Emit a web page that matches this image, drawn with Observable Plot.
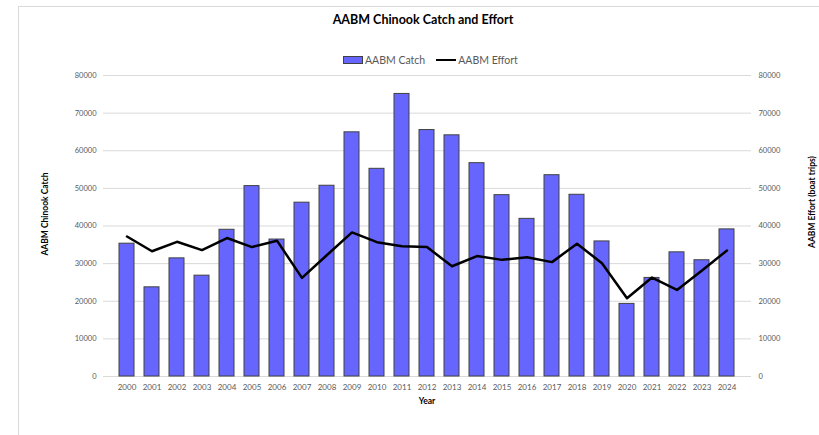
<!DOCTYPE html>
<html>
<head>
<meta charset="utf-8">
<script src="https://cdn.jsdelivr.net/npm/d3@7"></script>
<script src="https://cdn.jsdelivr.net/npm/@observablehq/plot@0.6"></script>
<style>
  html, body { margin: 0; padding: 0; background: #fff; }
  #wrap { position: relative; width: 819px; height: 435px; overflow: hidden; font-family: Lato, "Open Sans", sans-serif; }
  #frame { position: absolute; left: 18px; top: 6px; width: 820px; height: 440px; border-left: 1px solid #d9d9d9; border-top: 1px solid #d9d9d9; }
  #chart { position: absolute; left: 0; top: 0; }
  .title { position: absolute; left: 0; width: 846px; top: 12px; text-align: center; font-weight: bold; font-size: 12.5px; color: #000; }
  .legend { position: absolute; top: 54px; left: 343px; font-size: 10.5px; color: #595959; display: flex; align-items: center; white-space: nowrap; }
  .sw { display: inline-block; width: 18px; height: 6px; background: #6666ff; border: 1px solid #404040; margin-right: 2px; }
  .ln { display: inline-block; width: 20px; height: 2.5px; background: #000; margin-left: 11px; margin-right: 2px; }
  .ytitle { position: absolute; font-weight: bold; font-size: 8.5px; color: #000; white-space: nowrap; transform: translate(-50%, -50%) rotate(-90deg); }
  .xtitle { position: absolute; top: 396px; left: 427px; transform: translateX(-50%); font-weight: bold; font-size: 8.5px; color: #000; }
</style>
</head>
<body>
<div id="wrap">
  <div id="frame"></div>
  <div id="chart"></div>
  <div class="title">AABM Chinook Catch and Effort</div>
  <div class="legend"><span class="sw"></span><span>AABM Catch</span><span class="ln"></span><span>AABM Effort</span></div>
  <div class="ytitle" style="left:45px; top:214px;">AABM Chinook Catch</div>
  <div class="ytitle" style="left:812px; top:202px;">AABM Effort (boat trips)</div>
  <div class="xtitle">Year</div>
</div>
<script>
const years = ["2000","2001","2002","2003","2004","2005","2006","2007","2008","2009","2010","2011","2012","2013","2014","2015","2016","2017","2018","2019","2020","2021","2022","2023","2024"];
const catchValues = [35300, 23700, 31400, 26800, 39000, 50600, 36400, 46200, 50700, 64900, 55200, 75100, 65500, 64100, 56700, 48200, 41900, 53500, 48300, 35900, 19300, 26200, 33000, 30900, 39100];
const effortValues = [37200, 33300, 35800, 33600, 36800, 34400, 36100, 26200, 32300, 38300, 35700, 34600, 34400, 29300, 32000, 31000, 31700, 30400, 35300, 30100, 20800, 26300, 23000, 28200, 33500];
const yTicks = [0, 10000, 20000, 30000, 40000, 50000, 60000, 70000, 80000];

const data = years.map((y, i) => ({year: y, catch: catchValues[i], effort: effortValues[i]}));

const chart = Plot.plot({
  width: 819,
  height: 435,
  marginLeft: 103,
  marginRight: 68,
  marginTop: 75,
  marginBottom: 59,
  style: {fontFamily: "Lato, 'Open Sans', sans-serif", background: "transparent"},
  x: {type: "band", domain: years, paddingInner: 0.39, paddingOuter: 0.195},
  y: {domain: [0, 80000]},
  marks: [
    Plot.ruleY(yTicks, {stroke: "#d9d9d9", strokeWidth: 1}),
    Plot.barY(data, {x: "year", y: "catch", fill: "#6666ff", stroke: "#404040", strokeWidth: 1}),
    Plot.line(data, {x: "year", y: "effort", stroke: "#000", strokeWidth: 2.5}),
    Plot.axisY({anchor: "left", ticks: yTicks, tickSize: 0, tickPadding: 7, tickFormat: d => String(d), label: null, fontSize: 7.5, color: "#595959"}),
    Plot.axisY({anchor: "right", ticks: yTicks, tickSize: 0, tickPadding: 7, tickFormat: d => String(d), label: null, fontSize: 7.5, color: "#595959"}),
    Plot.axisX({tickSize: 0, tickPadding: 8, label: null, fontSize: 8, color: "#595959"})
  ]
});
document.getElementById("chart").appendChild(chart);
</script>
</body>
</html>
